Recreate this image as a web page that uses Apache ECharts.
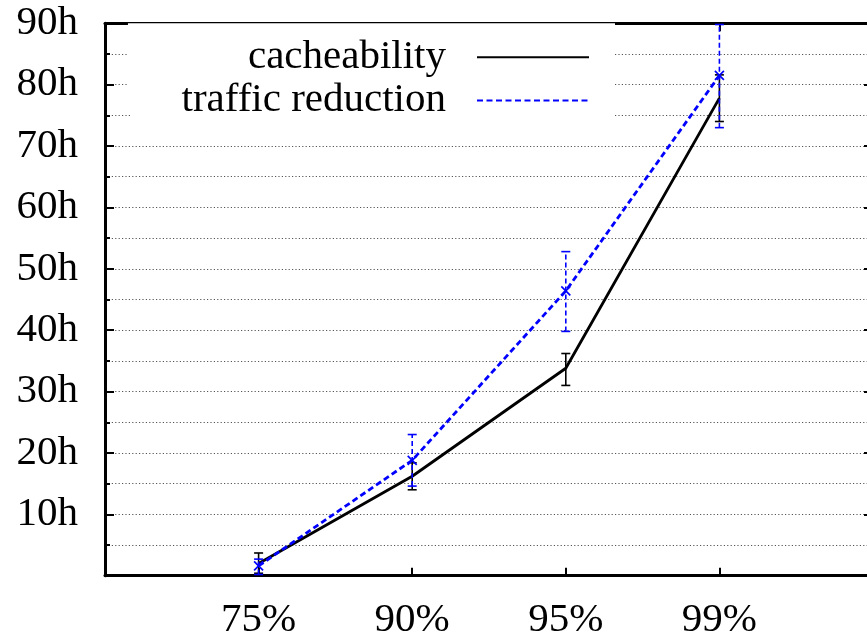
<!DOCTYPE html>
<html>
<head>
<meta charset="utf-8">
<script src="https://cdn.jsdelivr.net/npm/echarts@6/dist/echarts.min.js"></script>
<style>
html,body{margin:0;padding:0;background:#fff;}
#chart{width:867px;height:638px;}
</style>
</head>
<body>
<div id="chart"></div>
<script>
// ---- data ----
const categories = ['75%', '90%', '95%', '99%'];
const yTickLabels = ['', '10h', '20h', '30h', '40h', '50h', '60h', '70h', '80h', '90h'];
const cacheMean = [2.0, 16.2, 33.8, 77.8];
const cacheLow  = [0.4, 14.0, 31.0, 74.0];
const cacheHigh = [3.7, 18.4, 36.2, 81.6];
const trafficMean = [1.6, 18.8, 46.4, 81.5];
const trafficLow  = [0.2, 14.6, 39.8, 73.0];
const trafficHigh = [2.7, 23.0, 52.8, 89.8];

const FONT = 'Liberation Serif';
const FS = 41;
const BLUE = '#0000ff';

const pos = categories.map((c, i) => i + 1);
const lineData = (arr) => arr.map((v, i) => [pos[i], v]);
const errData = (m, lo, hi) => m.map((v, i) => [pos[i], lo[i], hi[i], v]);

function errRender(color, dashed, cross) {
  return function (params, api) {
    const x = api.value(0);
    const pLo = api.coord([x, api.value(1)]);
    const pHi = api.coord([x, api.value(2)]);
    const pM = api.coord([x, api.value(3)]);
    const cw = 4.5;
    const st = { stroke: color, lineWidth: 1.6, lineDash: dashed ? [5, 3] : null, fill: null };
    const cs = { stroke: color, lineWidth: 1.6, fill: null };
    const children = [
      { type: 'line', shape: { x1: pLo[0], y1: pLo[1], x2: pHi[0], y2: pHi[1] }, style: st },
      { type: 'line', shape: { x1: pLo[0] - cw, y1: pLo[1], x2: pLo[0] + cw, y2: pLo[1] }, style: cs },
      { type: 'line', shape: { x1: pHi[0] - cw, y1: pHi[1], x2: pHi[0] + cw, y2: pHi[1] }, style: cs }
    ];
    if (cross) {
      const s = 4.5;
      children.push({ type: 'line', shape: { x1: pM[0] - s, y1: pM[1] - s, x2: pM[0] + s, y2: pM[1] + s }, style: { stroke: color, lineWidth: 1.7 } });
      children.push({ type: 'line', shape: { x1: pM[0] - s, y1: pM[1] + s, x2: pM[0] + s, y2: pM[1] - s }, style: { stroke: color, lineWidth: 1.7 } });
    }
    return { type: 'group', children: children };
  };
}

const gridStyle = { color: '#555', width: 1, type: [1.2, 2.2] };
const axisLine = { show: true, onZero: false, lineStyle: { color: '#000', width: 3 } };
const legendCommon = {
  orient: 'vertical', align: 'right',
  right: 252,
  backgroundColor: '#fff',
  itemWidth: 112, itemHeight: 14,
  itemStyle: { opacity: 0, borderWidth: 0 },
  textStyle: { fontFamily: FONT, fontSize: FS, color: '#000', padding: [0, 26, 0, 0] },
  selectedMode: false
};

const chart = echarts.init(document.getElementById('chart'), null, { renderer: 'canvas' });
chart.setOption({
  animation: false,
  backgroundColor: '#fff',
  textStyle: { fontFamily: FONT },
  grid: { left: 105, top: 23.3, width: 768, height: 552.4, containLabel: false, outerBoundsMode: 'none' },
  legend: [
    Object.assign({}, legendCommon, {
      data: ['cacheability'], top: 23.3,
      padding: [13.5, 25, 12.5, 120]
    }),
    Object.assign({}, legendCommon, {
      data: ['traffic reduction'], top: 71,
      padding: [9, 25, 15, 50]
    })
  ],
  xAxis: [
    {
      type: 'value', position: 'bottom', min: 0, max: 5, interval: 1,
      axisLine: axisLine,
      axisTick: { show: true, inside: true, length: 8, lineStyle: { color: '#000', width: 2 } },
      axisLabel: {
        margin: 24, fontFamily: FONT, fontSize: FS, color: '#000',
        formatter: (v) => (v >= 1 && v <= categories.length) ? categories[v - 1] : ''
      },
      splitLine: { show: false }
    },
    {
      type: 'value', position: 'top', min: 0, max: 5, interval: 1,
      axisLine: axisLine,
      axisTick: { show: true, inside: true, length: 8, lineStyle: { color: '#000', width: 2 } },
      axisLabel: { show: false },
      splitLine: { show: false }
    }
  ],
  yAxis: [
    {
      type: 'value', position: 'left', min: 0, max: 90, interval: 10,
      axisLine: axisLine,
      axisTick: { show: true, inside: true, length: 9, lineStyle: { color: '#000', width: 2 } },
      minorTick: { show: true, splitNumber: 2, length: 5, lineStyle: { color: '#000', width: 2 } },
      axisLabel: {
        margin: 27, fontFamily: FONT, fontSize: FS, color: '#000',
        formatter: (v) => yTickLabels[Math.round(v / 10)] || ''
      },
      splitLine: { show: true, lineStyle: gridStyle },
      minorSplitLine: { show: true, lineStyle: gridStyle }
    },
    {
      type: 'value', position: 'right', min: 0, max: 90, interval: 10,
      axisLine: axisLine,
      axisTick: { show: true, inside: true, length: 9, lineStyle: { color: '#000', width: 2 } },
      minorTick: { show: true, splitNumber: 2, length: 5, lineStyle: { color: '#000', width: 2 } },
      axisLabel: { show: false },
      splitLine: { show: false }
    }
  ],
  series: [
    {
      name: 'cacheability', type: 'line', xAxisIndex: 0, yAxisIndex: 0,
      data: lineData(cacheMean), symbol: 'none', showSymbol: false,
      lineStyle: { color: '#000', width: 2.8, type: 'solid' },
      itemStyle: { color: '#000' }, z: 3
    },
    {
      name: 'cacheErr', type: 'custom', xAxisIndex: 0, yAxisIndex: 0,
      data: errData(cacheMean, cacheLow, cacheHigh),
      renderItem: errRender('#000', false, false), z: 3
    },
    {
      name: 'traffic reduction', type: 'line', xAxisIndex: 0, yAxisIndex: 0,
      data: lineData(trafficMean), symbol: 'none', showSymbol: false,
      lineStyle: { color: BLUE, width: 2.8, type: [6, 3.5] },
      itemStyle: { color: BLUE }, z: 4
    },
    {
      name: 'trafficErr', type: 'custom', xAxisIndex: 0, yAxisIndex: 0,
      data: errData(trafficMean, trafficLow, trafficHigh),
      renderItem: errRender(BLUE, true, true), z: 4
    }
  ]
});
</script>
</body>
</html>
